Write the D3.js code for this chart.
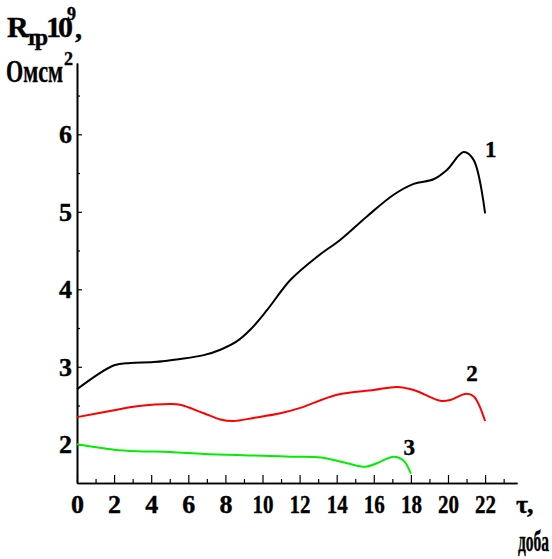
<!DOCTYPE html>
<html>
<head>
<meta charset="utf-8">
<script src="https://cdn.jsdelivr.net/npm/d3@7"></script>
<style>
  body { margin: 0; background: #fff; }
  svg text { font-family: "Liberation Serif", "Times New Roman", "DejaVu Serif", serif !important; font-weight: bold; }
</style>
</head>
<body>
<div id="chart"></div>
<script>
// days
const days1 = [0, 2, 2.87, 4.13, 5.57, 6.83, 7.73, 8.63, 9.35, 10.24, 11.5, 12.94, 14.2, 15.63, 17.07, 18.15, 19.22, 19.94, 20.84, 21.38, 22];
const curve1 = [2.71, 3.02, 3.05, 3.06, 3.1, 3.15, 3.22, 3.33, 3.48, 3.73, 4.12, 4.42, 4.64, 4.94, 5.22, 5.36, 5.42, 5.54, 5.77, 5.67, 4.98];

const days2 = [0, 2, 3.23, 5.03, 5.57, 6.83, 7.73, 8.44, 9.52, 10.96, 12.04, 14.02, 16, 17.26, 18.15, 19.59, 20.12, 20.93, 21.38, 22];
const curve2 = [2.35, 2.44, 2.49, 2.52, 2.51, 2.4, 2.32, 2.3, 2.34, 2.4, 2.47, 2.64, 2.7, 2.74, 2.7, 2.56, 2.57, 2.65, 2.62, 2.3];

const days3 = [0, 2, 3.23, 5.03, 6.83, 8.63, 10.42, 11.5, 13.16, 14.56, 15.55, 16.17, 17.07, 17.6, 18];
const curve3 = [2.0, 1.93, 1.91, 1.9, 1.875, 1.86, 1.85, 1.84, 1.83, 1.755, 1.71, 1.755, 1.84, 1.79, 1.62];

const xTicks = [0, 2, 4, 6, 8, 10, 12, 14, 16, 18, 20, 22];
const xMinor = [1, 3, 5, 7, 9, 11, 13, 15, 17, 19, 21, 23];
const yTicks = [2, 3, 4, 5, 6];
const yMinor = [2.5, 3.5, 4.5, 5.5, 6.5];

const seriesNames = ["1", "2", "3"];
const seriesColors = ["#000000", "#ff0000", "#00ee00"];

const width = 552, height = 559;
const margin = { top: 63, left: 77, right: 35, bottom: 76 };
const serif = '"Liberation Serif", "Times New Roman", serif';

const svg = d3.select("#chart").append("svg")
  .attr("width", width)
  .attr("height", height)
  .attr("font-family", serif)
  .attr("font-weight", "bold");

const x = d3.scaleLinear().domain([0, 23.72]).range([margin.left, width - margin.right]);
const y = d3.scaleLinear().domain([1.5, 6.92]).range([height - margin.bottom, margin.top]);

/* axes */
const xAxis = d3.axisBottom(x).tickValues(xTicks).tickSize(-8).tickSizeOuter(0).tickPadding(12).tickFormat(d3.format("d"));
const xAxisMinor = d3.axisBottom(x).tickValues(xMinor).tickSize(-4).tickSizeOuter(0).tickFormat("");
const yAxis = d3.axisLeft(y).tickValues(yTicks).tickSize(-5).tickSizeOuter(0).tickPadding(5).tickFormat(d3.format("d"));
const yAxisMinor = d3.axisLeft(y).tickValues(yMinor).tickSize(-3).tickSizeOuter(0).tickFormat("");

const gx = svg.append("g").attr("transform", `translate(0,${height - margin.bottom})`).call(xAxis);
svg.append("g").attr("transform", `translate(0,${height - margin.bottom})`).call(xAxisMinor);
const gy = svg.append("g").attr("transform", `translate(${margin.left},0)`).call(yAxis);
svg.append("g").attr("transform", `translate(${margin.left},0)`).call(yAxisMinor);

svg.selectAll("g").attr("font-family", serif);
svg.selectAll(".domain").attr("stroke", "#000").attr("stroke-width", 1.6);
svg.selectAll(".tick line").attr("stroke", "#000").attr("stroke-width", 1.2);
svg.selectAll(".tick text")
  .attr("fill", "#000")
  .style("font-size", "26px");
// two-digit labels are squeezed like the original
gx.selectAll(".tick text")
  .filter((d) => d >= 10)
  .attr("textLength", 21)
  .attr("lengthAdjust", "spacingAndGlyphs");

/* curves */
const line = d3.line()
  .x((d) => x(d[0]))
  .y((d) => y(d[1]))
  .curve(d3.curveCatmullRom.alpha(0.5));

const series = [
  d3.zip(days1, curve1),
  d3.zip(days2, curve2),
  d3.zip(days3, curve3)
];

svg.selectAll(".curve")
  .data(series)
  .join("path")
  .attr("class", "curve")
  .attr("d", line)
  .attr("fill", "none")
  .attr("stroke", (d, i) => seriesColors[i])
  .attr("stroke-width", 2);

// curve numbers
const labelPos = [[22.0, 5.71], [20.99, 2.81], [17.6, 1.86]];
svg.selectAll(".num")
  .data(seriesNames)
  .join("text")
  .attr("class", "num")
  .attr("x", (d, i) => x(labelPos[i][0]))
  .attr("y", (d, i) => y(labelPos[i][1]))
  .style("font-size", "23px")
  .text((d) => d);

/* axis titles */
const t1 = svg.append("text").attr("x", 7).attr("y", 37).style("font-size", "30px").style("letter-spacing", "-3px");
t1.append("tspan").text("R");
t1.append("tspan").attr("dy", 8).style("font-size", "24px").text("тр");
t1.append("tspan").attr("dy", -8).attr("dx", 1).text("10");
svg.append("text").attr("x", 67).attr("y", 20).style("font-size", "18px").text("9");
svg.append("text").attr("x", 75).attr("y", 38).style("font-size", "28px").text(",");

svg.append("text").attr("x", 6).attr("y", 82).style("font-size", "32px")
  .attr("textLength", 57).attr("lengthAdjust", "spacingAndGlyphs").text("Омсм");
svg.append("text").attr("x", 64).attr("y", 65).style("font-size", "18px").text("2");

svg.append("text").attr("x", 516).attr("y", 513).style("font-size", "26px").style("letter-spacing", "-1px").text("τ,");
svg.append("text").attr("x", 518).attr("y", 551).style("font-size", "29px")
  .attr("textLength", 31).attr("lengthAdjust", "spacingAndGlyphs").text("доба");

// heavier strokes to match the dense print of the original
svg.selectAll("text").attr("stroke", "#000").attr("stroke-width", 0.4);
</script>
</body>
</html>
